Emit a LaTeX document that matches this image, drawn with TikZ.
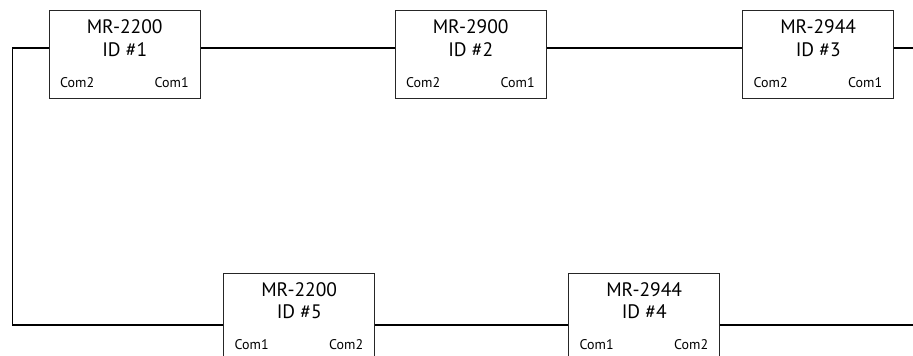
\documentclass[tikz,border=0pt]{standalone}
\usepackage{fontspec}
\setmainfont{PT Sans}
\begin{document}
\begin{tikzpicture}[x=1pt,y=1pt,
  devbox/.style={draw=black!85,line width=1.4pt,minimum width=151pt,minimum height=88pt,inner sep=0pt,anchor=north west},
  wire/.style={draw=black,line width=1.4pt},
  title/.style={font=\fontsize{19.5}{22}\selectfont,inner sep=0pt},
  port/.style={font=\fontsize{14}{16}\selectfont,inner sep=0pt}
]
\useasboundingbox (0,0) rectangle (913,-356);
\clip (0,0) rectangle (913,-356);
% top row
\node[devbox] (b1) at (48.5,-10) {};
\node[devbox] (b2) at (394.5,-10) {};
\node[devbox] (b3) at (742,-10) {};
% bottom row
\node[devbox] (b5) at (223,-272.5) {};
\node[devbox] (b4) at (568,-272.5) {};
% texts
\foreach \b/\m/\i/\l/\r in {b1/MR-2200/1/Com2/Com1, b2/MR-2900/2/Com2/Com1, b3/MR-2944/3/Com2/Com1, b5/MR-2200/5/Com1/Com2, b4/MR-2944/4/Com1/Com2}{
  \node[title] (\b t) at ([yshift=-17pt]\b.north) {\m};
  \node[title] (\b i) at ([yshift=-39.5pt]\b.north) {ID \#\i};
  \node[port,anchor=west] (\b l) at ([xshift=11.5pt,yshift=-72.5pt]\b.north west) {\l};
  \node[port,anchor=east] (\b r) at ([xshift=-12pt,yshift=-72.5pt]\b.north east) {\r};
}
% wiring
\coordinate (r1) at (0,-48);
\coordinate (r2) at (0,-325);
\coordinate (tl) at (12.5,-48);
\coordinate (bl) at (12.5,-325);
\coordinate (tr) at (913,-48);
\coordinate (br) at (913,-325);
\draw[wire] (b1.west |- r1) -- (tl) -- (bl) -- (b5.west |- r2);
\draw[wire] (b1.east |- r1) -- (b2.west |- r1);
\draw[wire] (b2.east |- r1) -- (b3.west |- r1);
\draw[wire] (b3.east |- r1) -- (tr);
\draw[wire] (b5.east |- r2) -- (b4.west |- r2);
\draw[wire] (b4.east |- r2) -- (br);
\end{tikzpicture}
\end{document}
